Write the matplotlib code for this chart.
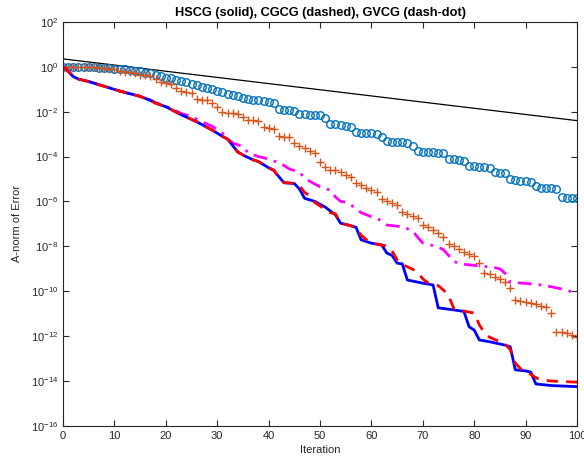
import numpy as np
import matplotlib
matplotlib.use('Agg')
import matplotlib.pyplot as plt

plt.rcParams['font.family'] = ['Liberation Sans', 'DejaVu Sans']

# log10 of the error
iters = np.arange(101)

circle_exp = [0.0, 0.0, -0.01, -0.01, -0.02, -0.02, -0.03, -0.04, -0.05, -0.06,
              -0.08, -0.10, -0.12, -0.14, -0.17, -0.20, -0.26, -0.30, -0.36, -0.42,
              -0.48, -0.52, -0.58, -0.65, -0.70, -0.75, -0.82, -0.88, -0.94, -1.00,
              -1.06, -1.12, -1.20, -1.26, -1.32, -1.38, -1.42, -1.46, -1.50, -1.54,
              -1.56, -1.60, -1.88, -1.92, -1.93, -1.95, -2.10, -2.12, -2.13, -2.14,
              -2.16, -2.30, -2.55, -2.57, -2.60, -2.62, -2.70, -2.90, -2.93, -2.95,
              -2.97, -3.00, -3.15, -3.30, -3.33, -3.35, -3.37, -3.40, -3.55, -3.75,
              -3.78, -3.79, -3.80, -3.82, -3.85, -4.10, -4.12, -4.15, -4.18, -4.40,
              -4.43, -4.45, -4.46, -4.50, -4.70, -4.73, -4.75, -5.00, -5.05, -5.08,
              -5.10, -5.12, -5.30, -5.38, -5.40, -5.42, -5.45, -5.80, -5.83, -5.85,
              -5.86]

cross_exp = [0.0, 0.0, 0.0, 0.0, -0.01, -0.02, -0.03, -0.04, -0.06, -0.08,
             -0.11, -0.18, -0.22, -0.24, -0.26, -0.35, -0.37, -0.40, -0.55, -0.70,
             -0.73, -0.76, -0.95, -1.10, -1.13, -1.16, -1.45, -1.48, -1.50, -1.62,
             -1.80, -2.00, -2.05, -2.07, -2.10, -2.25, -2.37, -2.39, -2.42, -2.70,
             -2.73, -2.76, -3.10, -3.12, -3.15, -3.40, -3.55, -3.62, -3.75, -3.85,
             -4.24, -4.45, -4.58, -4.62, -4.70, -4.80, -4.90, -5.20, -5.28, -5.40,
             -5.50, -5.60, -5.90, -5.98, -6.05, -6.15, -6.45, -6.55, -6.65, -6.75,
             -7.05, -7.12, -7.25, -7.40, -7.60, -7.90, -8.00, -8.10, -8.25, -8.35,
             -8.45, -8.75, -9.20, -9.25, -9.35, -9.45, -9.60, -9.85, -10.40, -10.42,
             -10.48, -10.52, -10.58, -10.65, -10.72, -10.97, -11.80, -11.82, -11.88, -11.93,
             -12.04]

hscg_it = [0, 1, 2, 3, 5, 8, 11, 15, 17, 18, 20, 23, 26, 29, 31, 32, 34, 35, 37, 38,
           40, 41, 42, 43, 45, 46, 47, 49, 51, 53, 54, 56, 57, 58, 60, 62, 63, 64, 65, 66,
           67, 70, 72, 73, 76, 78, 79, 80, 81, 83, 86, 87, 88, 90, 91, 92, 95, 100]
hscg_exp = [0.0, -0.2, -0.44, -0.55, -0.66, -0.87, -1.08, -1.32, -1.5, -1.62,
            -1.78, -2.14, -2.45, -2.82, -3.1, -3.22, -3.8, -3.93, -4.15, -4.22,
            -4.5, -4.62, -4.9, -5.17, -5.2, -5.45, -5.86, -6.0, -6.25, -6.6,
            -6.97, -7.08, -7.15, -7.71, -7.86, -7.94, -8.3, -8.4, -8.75, -8.78,
            -9.5, -9.64, -9.72, -10.74, -10.83, -10.9, -11.58, -11.73, -12.17, -12.25,
            -12.4, -12.47, -13.5, -13.55, -13.6, -14.13, -14.2, -14.25]

cgcg_it = [0, 1, 2, 3, 5, 8, 11, 15, 17, 18, 20, 23, 26, 29, 31, 32, 34, 35, 37, 38,
           40, 41, 42, 43, 45, 46, 47, 48, 49, 50, 52, 53, 54, 56, 57, 58, 59, 60, 62, 63,
           64, 65, 66, 68, 69, 70, 71, 72, 73, 74, 75, 76, 77, 79, 80, 81, 82, 83, 85, 86,
           87, 88, 89, 90, 91, 92, 93, 95, 100]
cgcg_exp = [0.0, -0.2, -0.44, -0.55, -0.66, -0.87, -1.08, -1.32, -1.5, -1.62,
            -1.78, -2.14, -2.45, -2.82, -3.1, -3.22, -3.8, -3.93, -4.15, -4.22,
            -4.5, -4.6, -4.95, -5.15, -5.2, -5.3, -5.6, -5.75, -6.05, -6.2,
            -6.5, -6.55, -6.97, -7.08, -7.2, -7.5, -7.7, -7.85, -7.94, -7.98,
            -8.2, -8.6, -8.8, -9.02, -9.15, -9.45, -9.63, -9.68, -9.75, -9.94,
            -10.2, -10.75, -10.83, -10.93, -10.97, -11.5, -11.85, -12.05, -12.25, -12.35,
            -12.6, -13.2, -13.45, -13.55, -13.7, -13.85, -13.95, -14.0, -14.05]

gvcg_it = [0, 1, 2, 3, 5, 8, 11, 15, 17, 18, 20, 23, 25, 27, 29, 31, 32, 33, 35, 36,
           38, 39, 41, 42, 43, 44, 46, 47, 48, 50, 52, 53, 54, 55, 57, 58, 60, 61, 62, 63,
           66, 68, 69, 70, 73, 74, 75, 76, 78, 81, 84, 85, 86, 87, 90, 93, 95, 97, 99, 100]
gvcg_exp = [0.0, -0.2, -0.44, -0.55, -0.66, -0.87, -1.08, -1.32, -1.48, -1.6,
            -1.76, -2.08, -2.22, -2.45, -2.65, -2.95, -3.2, -3.4, -3.55, -3.84,
            -4.0, -4.05, -4.2, -4.25, -4.4, -4.55, -4.7, -4.95, -5.1, -5.35,
            -5.5, -5.8, -6.0, -6.03, -6.3, -6.5, -6.68, -6.72, -6.9, -7.05,
            -7.13, -7.3, -7.6, -7.85, -8.03, -8.15, -8.4, -8.68, -8.8, -8.87,
            -8.95, -9.0, -9.2, -9.6, -9.65, -9.72, -9.8, -9.9, -10.02, -10.03]

bound_it = [0, 100]
bound_exp = [0.35, -2.4]

fig = plt.figure(figsize=(5.84, 4.65), dpi=100)
ax = fig.add_axes([0.108, 0.084, 0.880, 0.869])

ax.semilogy(bound_it, 10.0 ** np.array(bound_exp), color='black', lw=0.9)
ax.semilogy(iters, 10.0 ** np.array(circle_exp), 'o', mfc='none', mec='#0072BD',
            ms=5.4, mew=1.0)
ax.semilogy(iters, 10.0 ** np.array(cross_exp), '+', color='#D95319', ms=6.2, mew=1.0)
ax.semilogy(gvcg_it, 10.0 ** np.array(gvcg_exp), color='magenta', lw=2,
            dashes=(5, 2.5, 1, 2.5))
ax.semilogy(hscg_it, 10.0 ** np.array(hscg_exp), color='blue', lw=2)
ax.semilogy(cgcg_it, 10.0 ** np.array(cgcg_exp), color='red', lw=2, dashes=(4, 3))

ax.set_xlim(0, 100)
ax.set_ylim(1e-16, 1e2)
ax.set_xticks(range(0, 101, 10))
ax.set_yticks([10.0 ** k for k in range(-16, 3, 2)])
ax.yaxis.set_minor_locator(matplotlib.ticker.NullLocator())

for s in ax.spines.values():
    s.set_color('#262626')
    s.set_linewidth(0.8)
ax.tick_params(direction='in', top=True, right=True, length=4, width=0.8,
               colors='#262626', labelsize=8)

ax.set_xlabel('Iteration', fontsize=8, color='#262626', labelpad=3)
ax.set_ylabel('A-norm of Error', fontsize=8, color='#262626', labelpad=6)
ax.set_title('HSCG (solid), CGCG (dashed), GVCG (dash-dot)', fontsize=9.2,
             fontweight='bold', pad=4)

fig.savefig('out.png', dpi=100)
